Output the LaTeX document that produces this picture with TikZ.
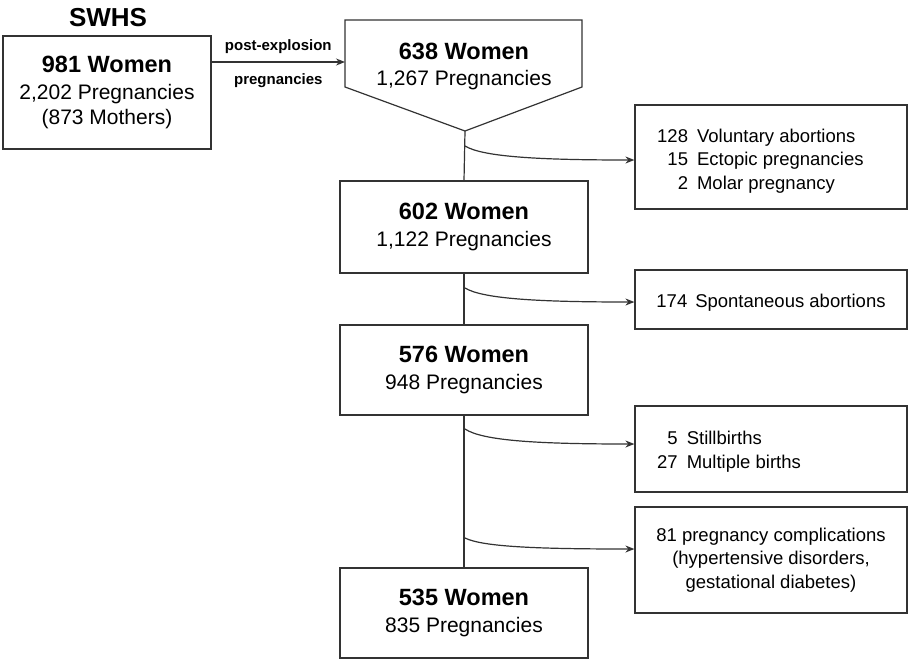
\documentclass[tikz,border=0pt]{standalone}
\usepackage{fontspec}
\setmainfont{Liberation Sans}
\usetikzlibrary{arrows.meta}
\newcommand{\bigb}{\fontsize{23.5}{26}\selectfont\bfseries}
\newcommand{\medtxt}{\fontsize{21}{26.5}\selectfont}
\newcommand{\sml}{\fontsize{18.5}{23.5}\selectfont}
\begin{document}
\begin{tikzpicture}[x=1pt,y=-1pt,
  box/.style={draw=black!80, line width=1.2pt, inner sep=0pt, align=center},
  mainbox/.style={box, font=\medtxt},
  sidebox/.style={box, font=\sml, minimum width=272pt},
  conn/.style={draw=black!80, line width=1.2pt},
  arr/.style={conn, -{Stealth[length=9pt,width=7pt]}}]
\useasboundingbox (0,0) rectangle (910,662);
% title
\node[font=\fontsize{26}{30}\selectfont\bfseries] (title) at (108,18) {SWHS};
% left box
\node[mainbox, minimum width=208pt, minimum height=113pt] (L) at (107,92.5)
  {{\bigb 981 Women}\\2,202 Pregnancies\\[-1pt](873 Mothers)};
% pentagon
\draw[conn, line join=miter] (345,20) -- (582,20) -- (582,87) -- (465,131) -- (345,87) -- cycle;
\node[align=center, inner sep=0pt, font=\medtxt] (P) at (464,66.5)
  {{\bigb 638 Women}\\1,267 Pregnancies};
\coordinate (pin) at (345,62);
\coordinate (ptip) at (465,131);
\draw[arr] (L.east |- pin) -- (pin)
  node[midway, above=4pt, font=\fontsize{15}{18}\selectfont\bfseries] {post-explosion}
  node[midway, below=8pt, font=\fontsize{15}{18}\selectfont\bfseries] {pregnancies};
% center boxes
\node[mainbox, minimum width=248pt, minimum height=92pt] (B2) at (464,227)
  {{\bigb 602 Women}\\1,122 Pregnancies};
\node[mainbox, minimum width=248pt, minimum height=90pt] (B3) at (464,370)
  {{\bigb 576 Women}\\948 Pregnancies};
\node[mainbox, minimum width=248pt, minimum height=90pt] (B4) at (464,613)
  {{\bigb 535 Women}\\835 Pregnancies};
% right boxes
\node[sidebox, minimum height=104pt] (R1) at (771,157) {};
\node[anchor=west, inner sep=0pt, font=\sml] (R1t) at (657,161)
  {\begin{tabular}{@{}r@{\hspace{9pt}}l@{}}128 & Voluntary abortions\\ 15 & Ectopic pregnancies\\ 2 & Molar pregnancy\end{tabular}};
\node[sidebox, minimum height=59pt] (R2) at (771,299.5) {};
\node[inner sep=0pt, font=\sml] (R2t) at (771,302.5)
  {174\hspace{8pt}Spontaneous abortions};
\node[sidebox, minimum height=86pt] (R3) at (771,449) {};
\node[anchor=west, inner sep=0pt, font=\sml] (R3t) at (657,452)
  {\begin{tabular}{@{}r@{\hspace{9pt}}l@{}}5 & Stillbirths\\ 27 & Multiple births\end{tabular}};
\node[sidebox, minimum height=106pt] (R4) at (771,560)
  {81 pregnancy complications\\(hypertensive disorders,\\gestational diabetes)};
% vertical line
\draw[conn] (ptip) -- (B2.north);
\draw[conn] (B2.south) -- (B3.north);
\draw[conn] (B3.south) -- (B4.north);
% branch arrows
\coordinate (c1) at (465,146);
\coordinate (c2) at (465,288);
\coordinate (c3) at (465,429);
\coordinate (c4) at (465,538);
\draw[arr] (c1) .. controls (483,157) and (540,160) .. (R1.west |- 0,160);
\draw[arr] (c2) .. controls (483,299) and (540,302) .. (R2.west |- 0,302);
\draw[arr] (c3) .. controls (483,441) and (540,444) .. (R3.west |- 0,444);
\draw[arr] (c4) .. controls (483,547) and (540,549) .. (R4.west |- 0,549);
\end{tikzpicture}
\end{document}
